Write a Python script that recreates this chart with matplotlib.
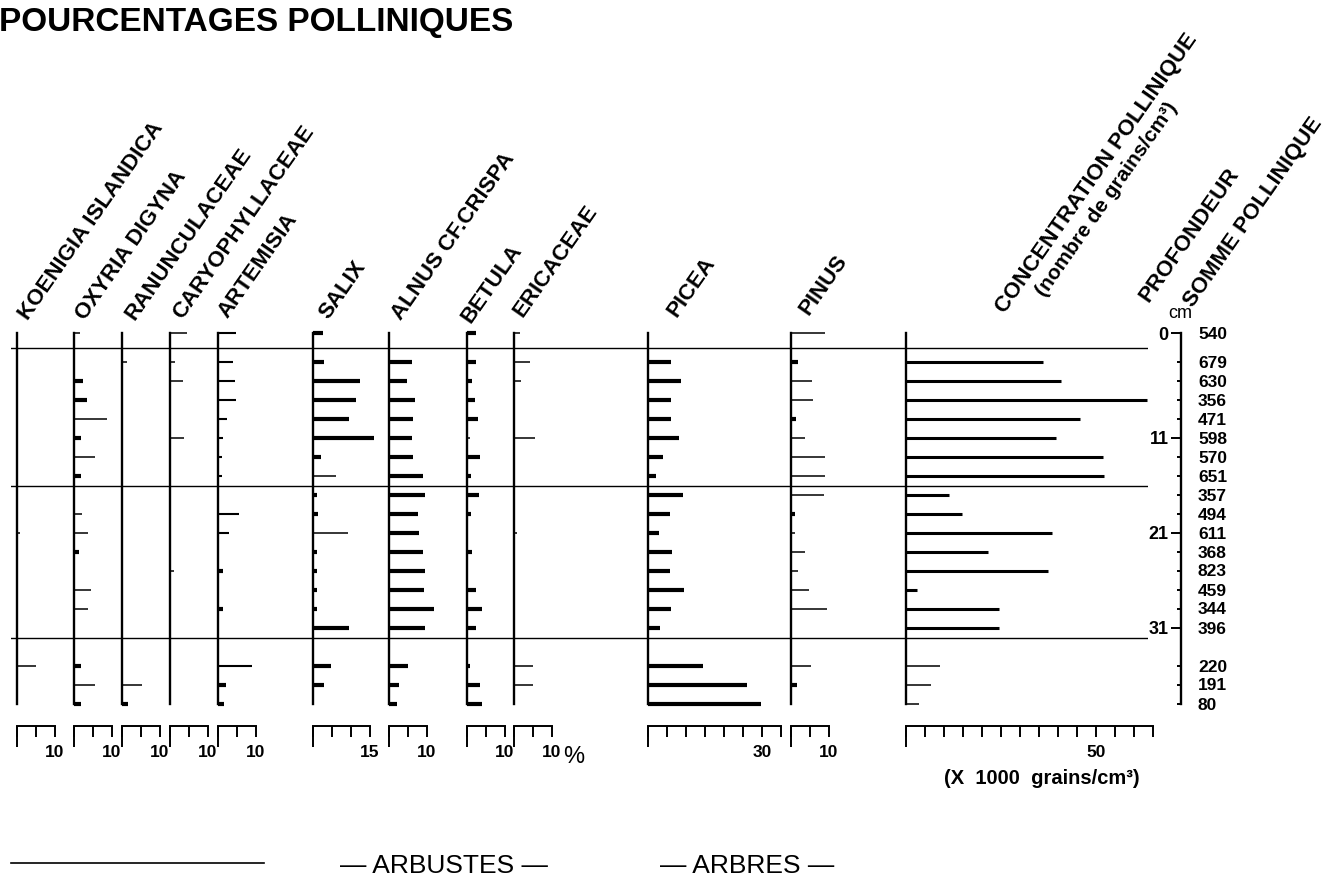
import matplotlib
matplotlib.use('Agg')
import matplotlib.pyplot as plt
from matplotlib.lines import Line2D

plt.rcParams['font.family'] = ['Liberation Sans', 'DejaVu Sans']

# samples (depth in cm) and pollen sums
depth_cm = [0, 3, 5, 7, 9, 11, 13, 15, 17, 19, 21, 23, 25, 27, 29, 31, 35, 37, 39]
somme_pollinique = [540, 679, 630, 356, 471, 598, 570, 651, 357, 494, 611, 368, 823, 459, 344, 396, 220, 191, 80]
depth_labels = [0, 11, 21, 31]
zone_limits = [1.6, 16.1, 32.1]

# percentages
koenigia = [0, 0, 0, 0, 0, 0, 0, 0, 0, 0, 0.7, 0, 0, 0, 0, 0, 5, 0, 0]
oxyria = [1.5, 0, 2.3, 3.5, 8.8, 1.8, 5.5, 1.8, 0, 2, 3.8, 1.3, 0, 4.4, 3.8, 0, 1.8, 5.5, 1.8]
ranunculaceae = [0, 1.3, 0, 0, 0, 0, 0, 0, 0, 0, 0, 0, 0, 0, 0, 0, 0, 5.3, 1.5]
caryophyllaceae = [4.4, 1.3, 3.3, 0, 0, 3.7, 0, 0, 0, 0, 0, 0, 1, 0, 0, 0, 0, 0, 0]
artemisia = [4.8, 4, 4.6, 4.8, 2.5, 1.3, 1, 1.1, 0, 5.4, 3, 0, 1.3, 0, 1.3, 0, 9, 2.2, 1.5]
salix = [2.6, 3, 12.3, 11.4, 9.5, 16, 2.2, 6, 1, 1.3, 9.2, 1, 1, 1, 1, 9.6, 4.8, 3, 0]
alnus = [0, 6.1, 4.7, 6.8, 6.3, 6, 6.3, 9, 9.5, 7.6, 7.9, 9, 9.4, 9.2, 11.8, 9.4, 5, 2.6, 2.2]
betula = [2.5, 2.3, 1.4, 2, 3, 0.7, 3.3, 1.1, 3.2, 1.1, 0, 1.3, 0, 2.5, 4, 2.3, 0.9, 3.3, 4]
ericaceae = [1.5, 4.3, 1.9, 0, 0, 5.5, 0, 0, 0, 0, 0.9, 0, 0, 0, 0, 0, 5, 5, 0]
picea = [0, 6.1, 8.8, 6.1, 6.1, 8.2, 4, 2.2, 9.2, 5.7, 2.9, 6.4, 5.7, 9.6, 6.1, 3.2, 14.6, 26, 29.8]
pinus = [9, 1.8, 5.5, 5.8, 1.3, 3.6, 9, 8.9, 8.6, 1.1, 1.1, 3.8, 1.8, 4.8, 9.4, 0, 5.3, 1.6, 0]
# x 1000 grains/cm3
concentration = [0, 36.1, 40.9, 63.5, 45.9, 39.4, 51.8, 52, 11.3, 14.8, 38.5, 21.6, 37.4, 3, 24.4, 24.4, 9, 6.7, 3.5]

ALL = list(range(len(depth_cm)))

# value list, x of axis (px), scale max, labelled value, thin bars, width of thin bars, width of thick bars
columns = [
    (koenigia, 17, 10, 10, ALL, 1.1, 3),
    (oxyria, 74, 10, 10, [0, 4, 6, 9, 10, 13, 14, 17], 1.1, 3),
    (ranunculaceae, 122, 10, 10, [1, 17], 1.1, 3),
    (caryophyllaceae, 170, 10, 10, ALL, 1.1, 3),
    (artemisia, 218, 10, 10, [0, 1, 2, 3, 4, 5, 6, 7, 9, 10, 16], 1.5, 3),
    (salix, 313, 15, 15, [7, 10], 1.1, 3),
    (alnus, 389, 10, 10, [], 1.1, 3),
    (betula, 467, 10, 10, [5], 1.1, 3),
    (ericaceae, 514, 10, 10, ALL, 1.1, 3),
    (picea, 648, 35, 30, [], 1.1, 3),
    (pinus, 791, 10, 10, [0, 2, 3, 5, 6, 7, 8, 10, 11, 12, 13, 14, 16], 1.1, 3),
    (concentration, 906, 65, 50, [16, 17, 18], 1.1, 2.2),
]

headers = [
    ('KOENIGIA ISLANDICA', 28, 321),
    ('OXYRIA DIGYNA', 85, 321),
    ('RANUNCULACEAE', 134, 321),
    ('CARYOPHYLLACEAE', 182, 320),
    ('ARTEMISIA', 227, 319),
    ('SALIX', 328, 320),
    ('ALNUS CF.CRISPA', 401, 321),
    ('BETULA', 470, 324),
    ('ERICACEAE', 522, 318),
    ('PICEA', 676, 318),
    ('PINUS', 808, 316),
    ('CONCENTRATION POLLINIQUE', 1005, 314),
    ('(nombre de grains/cm³)', 1045, 298),
    ('PROFONDEUR', 1148, 303),
    ('SOMME POLLINIQUE', 1193, 308),
]

W, H = 1342, 882
TOP = 333        # pixel row of depth 0
PX_CM = 9.5
PX_PCT = 3.8
DMAX = 39

fig = plt.figure(figsize=(W / 100, H / 100), dpi=100)
fig.patch.set_facecolor('white')


def px_axes(x, w, top=TOP, h=DMAX * PX_CM):
    return fig.add_axes([x / W, 1 - (top + h) / H, w / W, h / H])


def fx(x):
    return x / W


def fy(y):
    return 1 - y / H


for vals, x0, xmax, lab, thin, lw_thin, lw_thick in columns:
    ax = px_axes(x0, xmax * PX_PCT)
    ax.set_xlim(0, xmax)
    ax.set_ylim(DMAX, 0)
    ax.patch.set_visible(False)
    ax.spines['top'].set_visible(False)
    ax.spines['right'].set_visible(False)
    ax.spines['left'].set_linewidth(1.7)
    ax.spines['bottom'].set_position(('outward', 16))
    ax.spines['bottom'].set_linewidth(1.4)
    ax.set_yticks([])
    ticks = list(range(0, xmax + 1, 5))
    ax.set_xticks(ticks)
    ax.set_xticklabels([str(t) if t == lab else '' for t in ticks],
                       fontsize=12.5, fontweight='bold')
    ax.xaxis.remove_overlapping_locs = False
    ax.set_xticks([0], minor=True)
    ax.tick_params(axis='x', which='major', direction='out', length=8, width=1.4, pad=6)
    ax.tick_params(axis='x', which='minor', direction='out', length=15, width=1.4)
    widths = [lw_thin if i in thin else lw_thick for i in range(len(vals))]
    ax.hlines(depth_cm, 0, vals, colors='black', linewidth=widths,
              capstyle='butt', clip_on=False)

# depth axis + pollen sums
axd = px_axes(1181, 10)
axd.set_ylim(DMAX, 0)
axd.patch.set_visible(False)
for s in ['top', 'right', 'bottom']:
    axd.spines[s].set_visible(False)
axd.spines['left'].set_linewidth(1.7)
axd.set_xticks([])
axd.set_yticks(depth_labels)
axd.set_yticklabels([str(d) for d in depth_labels], fontsize=13, fontweight='bold')
axd.set_yticks(depth_cm, minor=True)
axd.tick_params(axis='y', which='major', length=7, width=1.4, pad=2)
axd.tick_params(axis='y', which='minor', length=3, width=1.4)

axs = axd.twinx()
axs.set_ylim(DMAX, 0)
for s in axs.spines.values():
    s.set_visible(False)
axs.set_yticks(depth_cm)
axs.set_yticklabels([str(v) for v in somme_pollinique], fontsize=12.5, fontweight='bold')
axs.tick_params(axis='y', length=0, pad=5)

# zone boundaries
axz = px_axes(11, 1137)
axz.set_ylim(DMAX, 0)
axz.axis('off')
for z in zone_limits:
    axz.axhline(z, color='black', linewidth=1)

# texts
fig.text(fx(-1), fy(31), 'POURCENTAGES POLLINIQUES', fontsize=24, fontweight='bold',
         ha='left', va='baseline')
for txt, x, y in headers:
    fig.text(fx(x), fy(y), txt, rotation=55, rotation_mode='anchor', ha='left',
             va='baseline', fontsize=16 if txt[0] != '(' else 15, fontweight='bold')
fig.text(fx(1180), fy(313), 'cm', fontsize=13, ha='center', va='center')
fig.text(fx(574), fy(757), '%', fontsize=17, ha='center', va='center')
fig.text(fx(1042), fy(778), '(X  1000  grains/cm³)', fontsize=14.5, fontweight='bold',
         ha='center', va='center')

fig.add_artist(Line2D([fx(11), fx(264)], [fy(863), fy(863)], color='black', linewidth=1.2))
fig.text(fx(444), fy(866), '— ARBUSTES —', fontsize=19, ha='center', va='center')
fig.text(fx(747), fy(866), '— ARBRES —', fontsize=19, ha='center', va='center')

fig.savefig('out.png', dpi=100)
